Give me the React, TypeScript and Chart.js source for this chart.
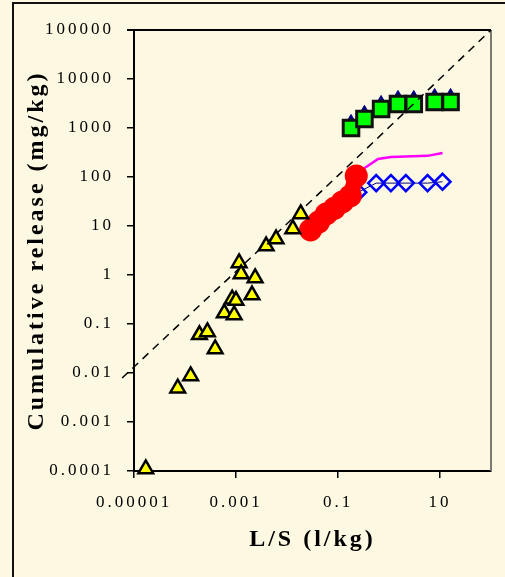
import React, { useEffect, useRef } from 'react';
import { Chart, registerables } from 'chart.js';

Chart.register(...registerables);

// ---- data ----
const xTickValues = [1e-5, 1e-3, 0.1, 10];
const xTickLabels = ['0.00001', '0.001', '0.1', '10'];
const yTickValues = [1e-4, 1e-3, 1e-2, 0.1, 1, 10, 100, 1000, 10000, 100000];
const yTickLabels = ['0.0001', '0.001', '0.01', '0.1', '1', '10', '100', '1000', '10000', '100000'];

const triX = [1.7e-5, 7.2e-5, 1.29e-4, 1.92e-4, 2.75e-4, 3.9e-4, 5.9e-4, 8.4e-4, 9.2e-4, 1.0e-3, 1.15e-3, 1.26e-3, 2.06e-3, 2.37e-3, 3.9e-3, 6.1e-3, 0.013, 0.0186];
const triY = [1.1e-4, 0.0049, 0.0087, 0.06, 0.069, 0.031, 0.167, 0.32, 0.153, 0.3, 1.76, 1.05, 0.39, 0.87, 3.9, 5.4, 8.7, 17.6];

const redX = [0.029, 0.0416, 0.059, 0.085, 0.122, 0.174, 0.228];
const redY = [8.3, 12, 17.6, 23, 31, 41, 105];

const diaX = [0.081, 0.139, 0.25, 0.56, 1.09, 2.14, 5.7, 11.2];
const diaY = [19, 29, 49, 75, 75, 75, 75, 80];

const sqX = [0.18, 0.33, 0.7, 1.5, 3.06, 7.85, 16.1];
const sqY = [1000, 1530, 2440, 3090, 3090, 3390, 3390];

const navyX = [0.18, 0.33, 0.7, 1.5, 3.06, 7.85, 16.1];
const navyY = [1300, 1990, 3170, 4020, 4020, 4410, 4410];

const magX = [0.228, 0.357, 0.61, 1.09, 5.7, 11.2];
const magY = [126, 160, 233, 257, 270, 310];

const dashX = [5.85e-6, 1.68e-4, 2.8e-3, 0.34, 100];
const dashY = [0.0079, 0.21, 3.2, 355, 100000];

const BG = '#FCF8E2';
const FONT = '"Times New Roman", "Liberation Serif", serif';

const pts = (xs: number[], ys: number[]) => xs.map((x, i) => ({ x, y: ys[i] }));

export default function App() {
  const ref = useRef<HTMLCanvasElement>(null);

  useEffect(() => {
    document.body.style.margin = '0';
    document.body.style.background = BG;
    const canvas = ref.current!;
    const ctx = canvas.getContext('2d')!;

    const spacing = {
      id: 'spacing',
      beforeUpdate(c: any) { c.ctx.letterSpacing = '3px'; },
      beforeLayout(c: any) { c.ctx.letterSpacing = '3px'; },
      beforeDraw(c: any) { c.ctx.letterSpacing = '3px'; },
    };

    const frame = {
      id: 'frame',
      beforeDatasetsDraw(c: any) {
        const { left, top, right, bottom } = c.chartArea;
        const g = c.ctx;
        g.save();
        g.strokeStyle = '#000';
        g.lineWidth = 2;
        g.beginPath();
        g.moveTo(left - 7, top);
        g.lineTo(right, top);
        g.stroke();
        g.strokeStyle = '#7a7a70';
        g.lineWidth = 2;
        g.beginPath();
        g.moveTo(right, top);
        g.lineTo(right, bottom);
        g.stroke();
        g.restore();
      },
    };

    const chart = new Chart(ctx, {
      type: 'scatter',
      data: {
        datasets: [
          {
            label: 'tri',
            data: pts(triX, triY),
            order: 0,
            showLine: false,
            pointStyle: 'triangle',
            pointRadius: 8.5,
            pointBackgroundColor: '#FFFF00',
            pointBorderColor: '#000',
            pointBorderWidth: 2.5,
            clip: false,
          },
          {
            label: 'dash',
            data: pts(dashX, dashY),
            order: 1,
            showLine: true,
            borderColor: '#000',
            borderWidth: 1.5,
            borderDash: [8, 6],
            pointRadius: 0,
            clip: false,
          },
          {
            label: 'red',
            data: pts(redX, redY),
            order: 2,
            showLine: true,
            borderColor: '#FF0000',
            borderWidth: 16,
            borderCapStyle: 'round',
            borderJoinStyle: 'round',
            pointRadius: 11.5,
            pointBackgroundColor: '#FF0000',
            pointBorderColor: '#FF0000',
            pointBorderWidth: 0,
            clip: false,
          },
          {
            label: 'sq',
            data: pts(sqX, sqY),
            order: 3,
            showLine: false,
            pointStyle: 'rect',
            pointRadius: 11,
            pointBackgroundColor: '#00FF00',
            pointBorderColor: '#111',
            pointBorderWidth: 3,
            clip: false,
          },
          {
            label: 'navy',
            data: pts(navyX, navyY),
            order: 4,
            showLine: false,
            pointStyle: 'triangle',
            pointRadius: 8,
            pointBackgroundColor: '#000080',
            pointBorderColor: '#000080',
            pointBorderWidth: 1,
            clip: false,
          },
          {
            label: 'mag',
            data: pts(magX, magY),
            order: 5,
            showLine: true,
            borderColor: '#FF00FF',
            borderWidth: 2.5,
            pointRadius: 0,
            clip: false,
          },
          {
            label: 'dia',
            data: pts(diaX, diaY),
            order: 6,
            showLine: true,
            borderColor: '#000080',
            borderWidth: 1,
            pointStyle: 'rectRot',
            pointRadius: 8,
            pointBackgroundColor: 'rgba(0,0,0,0)',
            pointBorderColor: '#0000FF',
            pointBorderWidth: 2.5,
            clip: false,
          },
        ],
      },
      options: {
        responsive: false,
        animation: false,
        events: [],
        devicePixelRatio: 1,
        layout: { padding: { left: 0, top: 30, right: 11, bottom: 0 } },
        plugins: {
          legend: { display: false },
          tooltip: { enabled: false },
          title: { display: false },
        },
        scales: {
          x: {
            type: 'logarithmic',
            min: 1e-5,
            max: 100,
            afterBuildTicks: (s: any) => { s.ticks = xTickValues.map((v) => ({ value: v })); },
            afterFit: (s: any) => { s.height = 106; },
            ticks: {
              autoSkip: false,
              maxRotation: 0,
              padding: 14,
              color: '#000',
              font: { family: FONT, size: 17 },
              callback: (v: any) => {
                const i = xTickValues.findIndex((t) => Math.abs(Math.log10(t) - Math.log10(v)) < 1e-6);
                return i >= 0 ? xTickLabels[i] : '';
              },
            },
            grid: { display: true, drawOnChartArea: false, drawTicks: true, tickLength: 7, color: '#000', lineWidth: 1.5 },
            border: { display: true, color: '#000', width: 2 },
            title: {
              display: true,
              text: 'L/S (l/kg)',
              color: '#000',
              font: { family: FONT, size: 24, weight: 'bold' },
              padding: { top: 0, bottom: 23 },
            },
          },
          y: {
            type: 'logarithmic',
            min: 1e-4,
            max: 1e5,
            afterBuildTicks: (s: any) => { s.ticks = yTickValues.map((v) => ({ value: v })); },
            afterFit: (s: any) => { s.width = 134; },
            ticks: {
              autoSkip: false,
              padding: 13,
              color: '#000',
              font: { family: FONT, size: 17 },
              callback: (v: any) => {
                const i = yTickValues.findIndex((t) => Math.abs(Math.log10(t) - Math.log10(v)) < 1e-6);
                return i >= 0 ? yTickLabels[i] : '';
              },
            },
            grid: { display: true, drawOnChartArea: false, drawTicks: true, tickLength: 7, color: '#000', lineWidth: 1.5 },
            border: { display: true, color: '#000', width: 2 },
            title: {
              display: true,
              text: 'Cumulative release (mg/kg)',
              color: '#000',
              font: { family: FONT, size: 24, weight: 'bold' },
              padding: { top: 22, bottom: 0 },
            },
          },
        },
      },
      plugins: [spacing, frame],
    } as any);

    return () => chart.destroy();
  }, []);

  return (
    <div style={{ position: 'fixed', left: 0, top: 0, width: 505, height: 577, background: BG, overflow: 'hidden' }}>
      <div
        style={{
          position: 'absolute',
          left: 12,
          top: 2,
          width: 700,
          height: 800,
          borderLeft: '2px solid #111',
          borderTop: '2px solid #111',
        }}
      />
      <canvas ref={ref} width={505} height={577} style={{ position: 'absolute', left: 0, top: 0 }} />
    </div>
  );
}
